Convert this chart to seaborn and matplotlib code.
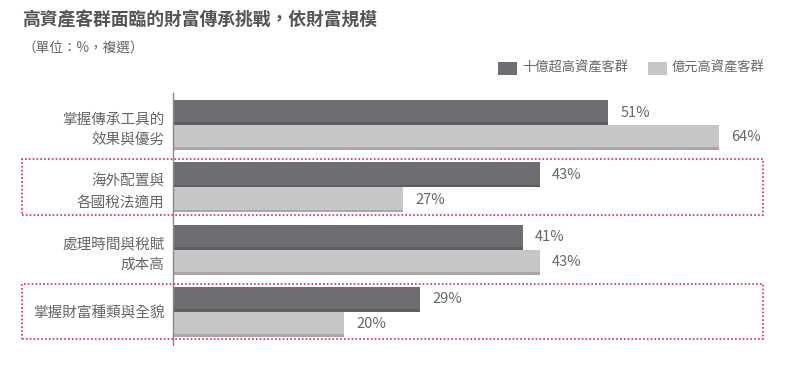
import matplotlib
matplotlib.use("Agg")
import matplotlib.pyplot as plt
import seaborn as sns
import pandas as pd
from matplotlib.patches import Rectangle

categories = ["掌握傳承工具的\n效果與優劣", "海外配置與\n各國稅法適用", "處理時間與稅賦\n成本高", "掌握財富種類與全貌"]
series_names = ["十億超高資產客群", "億元高資產客群"]
billion_vals = [51, 43, 41, 29]
hundred_m_vals = [64, 27, 43, 20]
highlight_idx = [1, 3]

title = "高資產客群面臨的財富傳承挑戰，依財富規模"
subtitle = "（單位：%，複選）"

dark = "#6d6e71"
light = "#c7c5c6"
text_col = "#666666"
red = "#e0245e"

sns.set_theme(style="white")
plt.rcParams["font.family"] = ["Noto Sans CJK TC", "DejaVu Sans"]

df = pd.DataFrame({
    "cat": categories * 2,
    "grp": [series_names[0]] * 4 + [series_names[1]] * 4,
    "val": billion_vals + hundred_m_vals,
})

fig = plt.figure(figsize=(7.92, 3.68), dpi=100)
ax = fig.add_axes([173 / 792, 1 - 345 / 368, 1 - 173 / 792, (345 - 93) / 368])

sns.barplot(data=df, y="cat", x="val", hue="grp", orient="h",
            palette=[dark, light], width=0.8, ax=ax, legend=False,
            saturation=1, linewidth=0)

# darker strip at the bottom of each bar
for p in ax.patches:
    x0, y0 = p.get_x(), p.get_y()
    w, h = p.get_width(), p.get_height()
    if w <= 0:
        continue
    fc = p.get_facecolor()
    shade = tuple(c * 0.85 for c in fc[:3])
    ax.add_patch(Rectangle((x0, y0 + h * 0.9), w, h * 0.1, color=shade, lw=0))

for cont in ax.containers:
    ax.bar_label(cont, labels=[f"{int(v)}%" for v in cont.datavalues],
                 padding=9, color=text_col, fontsize=10.5)

ax.set_xlim(0, 72.6)
ax.set_ylim(3.53, -0.513)
ax.set_xlabel("")
ax.set_ylabel("")
ax.set_xticks([])
for s in ["top", "right", "bottom"]:
    ax.spines[s].set_visible(False)
ax.spines["left"].set_color("#888888")
ax.spines["left"].set_linewidth(1)
ax.tick_params(axis="y", length=0, pad=6, labelsize=10.5, labelcolor=text_col)
for lbl in ax.get_yticklabels():
    lbl.set_horizontalalignment("right")
    lbl.set_linespacing(1.6)

# dotted highlight boxes around selected categories
inv = fig.transFigure.inverted()
for i in highlight_idx:
    y_top = ax.transData.transform((0, i - 0.45))[1]
    y_bot = ax.transData.transform((0, i + 0.44))[1]
    fy0 = inv.transform((0, y_bot))[1]
    fy1 = inv.transform((0, y_top))[1]
    fx0 = 22 / 792
    fx1 = 763 / 792
    fig.add_artist(Rectangle((fx0, fy0), fx1 - fx0, fy1 - fy0,
                             transform=fig.transFigure, fill=False,
                             edgecolor=red, linestyle=(0, (1, 1.3)), lw=1.2))

fig.text(22 / 792, 1 - 20 / 368, title, fontsize=12.8, fontweight="bold",
         color="#555555", va="center", ha="left")
fig.text(22 / 792, 1 - 48 / 368, subtitle, fontsize=9.8,
         color=text_col, va="center", ha="left")

# legend
leg_items = [(498, dark, series_names[0]), (648, light, series_names[1])]
for x, col, name in leg_items:
    fig.add_artist(Rectangle((x / 792, 1 - 75 / 368), 19 / 792, 13 / 368,
                             transform=fig.transFigure, color=col, lw=0))
    fig.text((x + 24) / 792, 1 - 68 / 368, name, fontsize=9.5,
             color=text_col, va="center", ha="left")

fig.savefig("out.png", dpi=100)
